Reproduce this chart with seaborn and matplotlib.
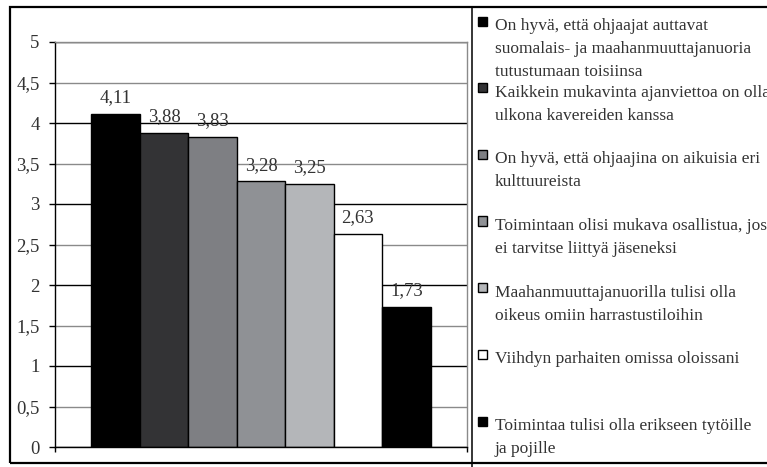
import matplotlib
matplotlib.use("Agg")
import matplotlib.pyplot as plt
from matplotlib.patches import Rectangle
from matplotlib.lines import Line2D
from matplotlib.ticker import MultipleLocator, FuncFormatter
import seaborn as sns
import pandas as pd

# Data
statements = [
    "On hyvä, että ohjaajat auttavat\nsuomalais- ja maahanmuuttajanuoria\ntutustumaan toisiinsa",
    "Kaikkein mukavinta ajanviettoa on olla\nulkona kavereiden kanssa",
    "On hyvä, että ohjaajina on aikuisia eri\nkulttuureista",
    "Toimintaan olisi mukava osallistua, jos\nei tarvitse liittyä jäseneksi",
    "Maahanmuuttajanuorilla tulisi olla\noikeus omiin harrastustiloihin",
    "Viihdyn parhaiten omissa oloissani",
    "Toimintaa tulisi olla erikseen tytöille\nja pojille",
]
means = [4.11, 3.88, 3.83, 3.28, 3.25, 2.63, 1.73]
bar_colors = ["#000000", "#333335", "#7e7f83", "#8f9195", "#b4b6b9", "#ffffff", "#000000"]

W, H, DPI = 767, 467, 100
FONT = "Liberation Serif"
TEXT_COLOR = "#333333"


def fx(px):
    return px / W


def fy(py):
    return 1 - py / H


def comma(v, _pos=None):
    return f"{v:g}".replace(".", ",")


sns.set_style("white")
plt.rcParams["font.family"] = [FONT, "DejaVu Serif"]

fig = plt.figure(figsize=(W / DPI, H / DPI), dpi=DPI)
fig.patch.set_facecolor("white")

# plot area (pixel layout)
ax = fig.add_axes([fx(55), fy(447), fx(467) - fx(55), fy(42) - fy(447)])

df = pd.DataFrame({"group": [""] * len(means), "mean": means, "statement": statements})
sns.barplot(
    data=df, x="group", y="mean", hue="statement",
    palette=bar_colors, saturation=1, width=0.823,
    edgecolor="black", linewidth=1, legend=False, ax=ax,
)

for container in ax.containers:
    ax.bar_label(
        container,
        labels=[f"{v:.2f}".replace(".", ",") for v in container.datavalues],
        padding=5.5, fontsize=13.5, color=TEXT_COLOR,
    )

ax.set_xlim(-0.5, 0.5)
ax.set_ylim(0, 5)
ax.set_xlabel("")
ax.set_ylabel("")
ax.set_xticks([-0.5, 0.5])
ax.set_xticklabels(["", ""])
ax.yaxis.set_major_locator(MultipleLocator(0.5))
ax.yaxis.set_major_formatter(FuncFormatter(comma))
ax.tick_params(axis="y", direction="out", length=4.5, width=1, color="black",
               labelsize=13.5, labelcolor=TEXT_COLOR, pad=6.5, left=True)
ax.tick_params(axis="x", direction="out", length=3.6, width=1, color="black", bottom=True)

# gridlines: whole numbers black, halves gray
ax.set_axisbelow(True)
ax.grid(axis="y", linewidth=1)
for line, tick in zip(ax.get_ygridlines(), ax.get_yticks()):
    line.set_color("black" if float(tick).is_integer() else "#8a8a8a")

for side in ["left", "bottom"]:
    ax.spines[side].set_color("black")
    ax.spines[side].set_linewidth(1)
for side in ["top", "right"]:
    ax.spines[side].set_color("#8a8a8a")
    ax.spines[side].set_linewidth(1)

# outer chart border and legend divider
fig.add_artist(Rectangle((fx(10), fy(463)), fx(820) - fx(10), fy(7) - fy(463),
                         transform=fig.transFigure, fill=False,
                         edgecolor="black", linewidth=1.6))
fig.add_artist(Line2D([fx(472), fx(472)], [fy(7), fy(467)],
                      transform=fig.transFigure, color="black", linewidth=1.1))

# legend drawn by hand so the markers sit on the first line like the original
first_marker, step = 21, (421 - 21) / 6
for i, (label, color) in enumerate(zip(statements, bar_colors)):
    cy = first_marker + i * step
    fig.add_artist(Rectangle((fx(478), fy(cy + 4.5)), fx(487) - fx(478), fy(cy - 4.5) - fy(cy + 4.5),
                             transform=fig.transFigure, facecolor=color,
                             edgecolor="black", linewidth=1))
    fig.text(fx(495), fy(cy - 3), label, ha="left", va="top",
             fontsize=12.5, color=TEXT_COLOR, linespacing=1.58)

fig.savefig("out.png", dpi=DPI)
